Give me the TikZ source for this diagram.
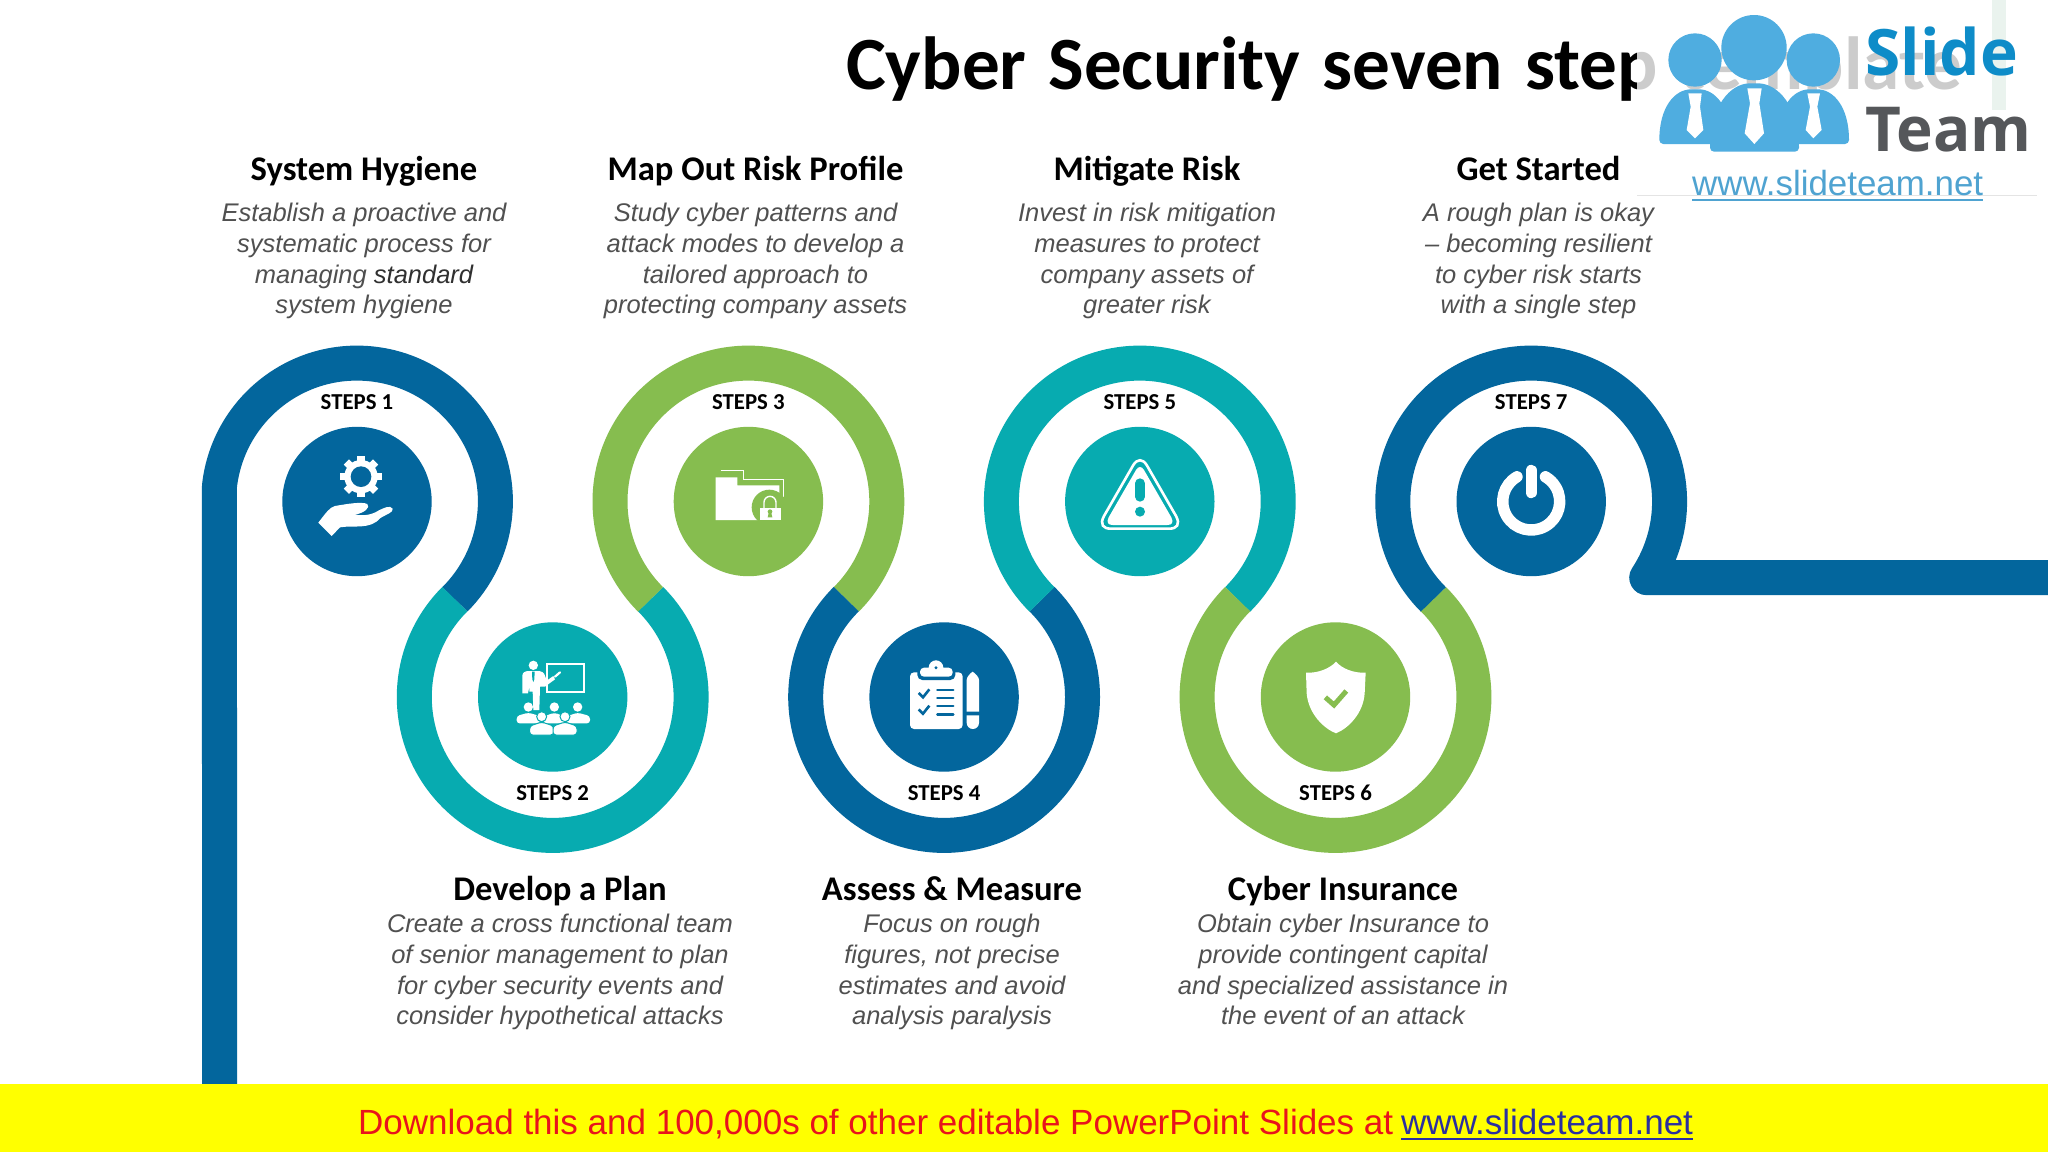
\documentclass[tikz,border=0pt]{standalone}
\usepackage{fontspec}
\setmainfont{Liberation Sans}
\newfontfamily\hdfont{Carlito}
\newfontfamily\logofont{Open Sans}
\definecolor{cblue}{HTML}{03669D}
\definecolor{cteal}{HTML}{07ABB0}
\definecolor{cgreen}{HTML}{86BD4F}
\definecolor{cgrey}{HTML}{505050}
\definecolor{cdark}{HTML}{303030}
\definecolor{logoblue}{HTML}{4FADE0}
\definecolor{slideblue}{HTML}{0E8CC8}
\definecolor{teamgrey}{HTML}{55575A}
\definecolor{urlblue}{HTML}{4FA3D1}
\definecolor{dlred}{HTML}{E8141C}
\definecolor{dlblue}{HTML}{2B2FA0}
\definecolor{bannery}{HTML}{FFFF00}
\definecolor{stripe}{HTML}{EAF3EE}
\definecolor{panelline}{HTML}{E4E4E4}
\tikzset{
  ring/.style={line width=35pt,line cap=butt,line join=round,draw=#1},
  disc/.style={circle,fill=#1,minimum size=149.4pt,inner sep=0pt,outer sep=0pt},
  steplab/.style={font=\hdfont\bfseries\fontsize{22.8pt}{22.8pt}\selectfont,anchor=base,inner sep=0pt,text=black},
  headlab/.style={font=\hdfont\bfseries\fontsize{34.6pt}{34.6pt}\selectfont,anchor=base,inner sep=0pt,text=black},
  desclab/.style={font=\itshape\fontsize{25.5pt}{30.7pt}\selectfont,align=center,anchor=north,inner sep=0pt,text=cgrey},
}
\newcommand{\Rr}{138.4pt}
\begin{document}
\begin{tikzpicture}[x=1pt,y=-1pt]
\useasboundingbox (0,0) rectangle (2048,1152);
\fill[white] (0,0) rectangle (2048,1152);
% centres
\coordinate (p1) at (357,501.5);
\coordinate (p2) at (552.7,697);
\coordinate (p3) at (748.4,501.5);
\coordinate (p4) at (944.1,697);
\coordinate (p5) at (1139.8,501.5);
\coordinate (p6) at (1335.5,697);
\coordinate (p7) at (1531.2,501.5);
\coordinate (barbot) at (219.5,1090);
\coordinate (barend) at (2060,577.7);
\coordinate (bartop) at ([shift={(173.5:\Rr)}]p1);
% rings
\draw[ring=cblue] (barbot |- 0,1090) -- (bartop) arc[start angle=173.5,end angle=-45,radius=\Rr];
\draw[ring=cteal] (p2) ++(135:\Rr) arc[start angle=135,end angle=405,radius=\Rr];
\draw[ring=cgreen] (p3) ++(225:\Rr) arc[start angle=225,end angle=-45,radius=\Rr];
\draw[ring=cblue] (p4) ++(135:\Rr) arc[start angle=135,end angle=405,radius=\Rr];
\draw[ring=cteal] (p5) ++(225:\Rr) arc[start angle=225,end angle=-45,radius=\Rr];
\draw[ring=cgreen] (p6) ++(135:\Rr) arc[start angle=135,end angle=405,radius=\Rr];
\draw[ring=cblue] (p7) ++(225:\Rr) arc[start angle=225,end angle=-33.4,radius=\Rr] -- (barend);
% discs
\node[disc=cblue] (c1) at (p1) {};
\node[disc=cteal] (c2) at (p2) {};
\node[disc=cgreen] (c3) at (p3) {};
\node[disc=cblue] (c4) at (p4) {};
\node[disc=cteal] (c5) at (p5) {};
\node[disc=cgreen] (c6) at (p6) {};
\node[disc=cblue] (c7) at (p7) {};
% step labels
\node[steplab] (s1) at (357,409.5) {STEPS 1};
\node[steplab] (s2) at (552.7,800.5) {STEPS 2};
\node[steplab] (s3) at (748.4,409.5) {STEPS 3};
\node[steplab] (s4) at (944.1,800.5) {STEPS 4};
\node[steplab] (s5) at (1139.8,409.5) {STEPS 5};
\node[steplab] (s6) at (1335.5,800.5) {STEPS 6};
\node[steplab] (s7) at (1531.2,409.5) {STEPS 7};
% headings
\node[headlab] (h1) at (364,180.5) {System Hygiene};
\node[headlab] (h3) at (755.5,180.5) {Map Out Risk Profile};
\node[headlab] (h5) at (1147,180.5) {Mitigate Risk};
\node[headlab] (h7) at (1538.5,180.5) {Get Started};
\node[headlab] (h2) at (560,900) {Develop a Plan};
\node[headlab] (h4) at (952,900) {Assess \& Measure};
\node[headlab] (h6) at (1343,900) {Cyber Insurance};
% descriptions
\node[desclab] (d1) at (364,203) {Establish a proactive and\\systematic process for\\managing \textcolor{cdark}{standard}\\system hygiene};
\node[desclab] (d3) at (755.5,203) {Study cyber patterns and\\attack modes to develop a\\tailored approach to\\protecting company assets};
\node[desclab] (d5) at (1147,203) {Invest in risk mitigation\\measures to protect\\company assets of\\greater risk};
\node[desclab] (d7) at (1538.5,203) {A rough plan is okay\\– becoming resilient\\to cyber risk starts\\with a single step};
\node[desclab] (d2) at (560,914) {Create a cross functional team\\of senior management to plan\\for cyber security events and\\consider hypothetical attacks};
\node[desclab] (d4) at (952,914) {Focus on rough\\figures, not precise\\estimates and avoid\\analysis paralysis};
\node[desclab] (d6) at (1343,914) {Obtain cyber Insurance to\\provide contingent capital\\and specialized assistance in\\the event of an attack};
% gear and hand
\begin{scope}[shift={(280,430)},x=0.33333pt,y=-0.33333pt]
  \foreach \a in {0,45,...,315}
    \fill[white,rotate around={\a:(243,140)}] (232,78) rectangle (254,100);
  \fill[white] (243,140) circle[radius=50];
  \fill[cblue] (243,140) circle[radius=31];
  \fill[white] (115,278) -- (155,318) -- (180,292) .. controls (220,285) and (270,300) .. (300,265) .. controls (320,252) and (340,248) .. (338,236) .. controls (330,225) and (315,232) .. (295,242) .. controls (275,255) and (250,258) .. (225,254) .. controls (255,248) and (272,232) .. (262,222) .. controls (245,214) and (200,222) .. (165,228) .. controls (150,232) and (140,245) .. cycle;
\end{scope}
% presenter
\begin{scope}[shift={(490,640)},x=0.33333pt,y=-0.33333pt]
  \draw[white,line width=2pt] (172,72) rectangle (283,155);
  \fill[white] (130,76) circle[radius=14];
  \fill[white] (97,108) .. controls (97,97) and (105,93) .. (118,93) -- (142,93) .. controls (155,93) and (163,97) .. (166,110) -- (170,122) -- (190,108) -- (195,118) -- (165,140) -- (150,140) -- (148,210) -- (130,210) -- (128,155) -- (118,155) -- (118,140) -- (114,160) -- (97,160) -- cycle;
  \fill[cteal] (126,95) -- (134,95) -- (133,118) -- (130,126) -- (127,118) -- cycle;
  \draw[white,line width=2.2pt,line cap=round] (195,110) -- (210,97);
  \foreach \x in {115,193,263} \fill[white] (\x,201) circle[radius=14];
  \fill[white,rounded corners=3pt] (80,250) -- (80,228) -- (115,218) -- (150,228) -- (150,250) -- cycle;
  \fill[white,rounded corners=3pt] (160,250) -- (165,228) -- (193,218) -- (221,228) -- (226,250) -- cycle;
  \fill[white,rounded corners=3pt] (230,250) -- (232,228) -- (263,218) -- (300,228) -- (300,250) -- cycle;
  \foreach \x in {155,225} {
    \fill[white,draw=cteal,line width=1pt] (\x,230) circle[radius=15];
    \fill[white,draw=cteal,line width=1pt,rounded corners=3pt] (\x-36,285) -- (\x-36,258) -- (\x,246) -- (\x+36,258) -- (\x+36,285) -- cycle;
  }
\end{scope}
% folder
\begin{scope}[shift={(650,400)},x=0.33333pt,y=-0.33333pt]
  \draw[white,line width=1.4pt] (212,212) -- (280,212) -- (280,238) -- (401,238) -- (401,290);
  \fill[white] (197,232) -- (262,232) -- (262,256) -- (388,256) -- (388,300) -- (330,360) -- (197,360) -- cycle;
  \fill[cgreen] (358,322) circle[radius=53];
  \fill[white] (330,325) rectangle (392,360);
  \draw[white,line width=1.4pt] (342,325) -- (342,307) arc[start angle=180,end angle=360,radius=18] -- (378,325);
  \fill[cgreen] (360,335) circle[radius=7];
  \fill[cgreen] (357,335) -- (363,335) -- (367,352) -- (353,352) -- cycle;
\end{scope}
% clipboard
\begin{scope}[shift={(650,400)},x=0.33333pt,y=-0.33333pt]
  \fill[white,rounded corners=4pt] (780,817) rectangle (938,987);
  \fill[cblue,rounded corners=5pt] (802,795) rectangle (916,840);
  \fill[white,rounded corners=4pt] (810,803) rectangle (908,830);
  \fill[white] (858,803) circle[radius=22];
  \fill[cblue] (858,803) circle[radius=5];
  \draw[cblue,line width=2.6pt,line join=miter] (806,879) -- (819,892) -- (838,868);
  \draw[cblue,line width=2.6pt,line join=miter] (806,928) -- (819,941) -- (838,917);
  \foreach \yy in {870,894,918,943} \draw[cblue,line width=2.4pt,line cap=round] (862,\yy) -- (910,\yy);
  \fill[white] (950,840) .. controls (950,832) and (958,822) .. (968,815) .. controls (978,822) and (987,832) .. (987,840) -- (987,935) -- (950,935) -- cycle;
  \fill[white] (950,946) -- (987,946) -- (987,968.5) arc[start angle=0,end angle=180,radius=18.5] -- cycle;
\end{scope}
% warning triangle
\begin{scope}[shift={(1030,400)},x=0.33333pt,y=-0.33333pt]
  \draw[white,line width=2.6pt] (310,195) .. controls (322,176) and (338,176) .. (350,195) -- (438,348) .. controls (452,374) and (440,386) .. (418,386) -- (242,386) .. controls (220,386) and (208,374) .. (222,348) -- cycle;
  \fill[white] (318,210) .. controls (325,198) and (335,198) .. (342,210) -- (424,352) .. controls (432,368) and (425,375) .. (412,375) -- (248,375) .. controls (235,375) and (228,368) .. (236,352) -- cycle;
  \draw[cteal,line width=10pt,line cap=round] (330,250) -- (330,290);
  \fill[cteal] (330,335) circle[radius=15];
\end{scope}
% shield
\begin{scope}[shift={(1030,400)},x=0.33333pt,y=-0.33333pt]
  \fill[white] (918,785) .. controls (900,805) and (865,820) .. (828,818) -- (830,880) .. controls (835,940) and (880,985) .. (918,1000) .. controls (955,985) and (1000,940) .. (1004,880) -- (1007,818) .. controls (970,820) and (935,805) .. cycle;
  \draw[cgreen,line width=5pt,line join=miter] (886,892) -- (912,915) -- (949,873);
\end{scope}
% power
\draw[white,line width=11.4pt,line cap=round] (p7) ++(120:28.5pt) arc[start angle=120,end angle=420,radius=28.5pt];
\draw[white,line width=11.4pt,line cap=round] (1531.2,470.5) -- (1531.2,492.5);
% title and logo panel
\node[font=\hdfont\bfseries\fontsize{75.2pt}{75.2pt}\selectfont,anchor=base west,inner sep=0pt,text=black] (title) at (846,89) {\spaceskip=22pt\relax Cyber Security seven step template};
\fill[white,opacity=0.8] (1637,0) rectangle (2037,195);
\draw[panelline,line width=0.8pt] (1637,195) -- (2037,195);
\fill[stripe] (1992,0) rectangle (2006,110);
% logo people
\begin{scope}[shift={(1600,0)},x=0.33333pt,y=-0.33333pt]
  \foreach \x/\yb in {285/432,640/432} {
    \fill[logoblue] (\x,180) circle[radius=80];
    \fill[logoblue,rounded corners=4pt] (\x-107,\yb) .. controls (\x-107,320) and (\x-60,268) .. (\x,268) .. controls (\x+60,268) and (\x+107,320) .. (\x+107,\yb) -- cycle;
  }
  \fill[logoblue] (462,143) circle[radius=98];
  \fill[logoblue,rounded corners=4pt] (330,455) .. controls (330,320) and (390,250) .. (462,250) .. controls (534,250) and (597,320) .. (597,455) -- cycle;
  \fill[white] (265,280) -- (305,280) -- (300,320) -- (310,390) -- (285,415) -- (260,390) -- (272,320) -- cycle;
  \fill[white] (442,265) -- (485,265) -- (478,310) -- (492,400) -- (463,432) -- (434,400) -- (450,310) -- cycle;
  \fill[white] (622,280) -- (660,280) -- (652,320) -- (665,390) -- (640,415) -- (617,390) -- (630,320) -- cycle;
\end{scope}
\node[font=\logofont\bfseries\fontsize{64pt}{64pt}\selectfont,anchor=base west,inner sep=0pt,text=slideblue] (lslide) at (1865,75) {Slide};
\node[font=\logofont\bfseries\fontsize{62pt}{62pt}\selectfont,anchor=base west,inner sep=0pt,text=teamgrey] (lteam) at (1865,151) {Team};
\node[font=\fontsize{34.9pt}{34.9pt}\selectfont,anchor=base west,inner sep=0pt,text=urlblue] (lurl) at (1692,195) {www.slideteam.net};
\draw[urlblue,line width=2.4pt] ([yshift=-5pt]lurl.base west) -- ([yshift=-5pt]lurl.base east);
% banner
\fill[bannery] (0,1084) rectangle (2048,1152);
\node[font=\fontsize{35pt}{35pt}\selectfont,anchor=base west,inner sep=0pt,text=dlred] (dl) at (358,1134) {Download this and 100,000s of other editable PowerPoint Slides at};
\node[font=\fontsize{35pt}{35pt}\selectfont,anchor=base west,inner sep=0pt,text=dlblue] (lk) at (1401,1134) {www.slideteam.net};
\draw[dlblue,line width=2.2pt] ([yshift=-5pt]lk.base west) -- ([yshift=-5pt]lk.base east);
\end{tikzpicture}
\end{document}
